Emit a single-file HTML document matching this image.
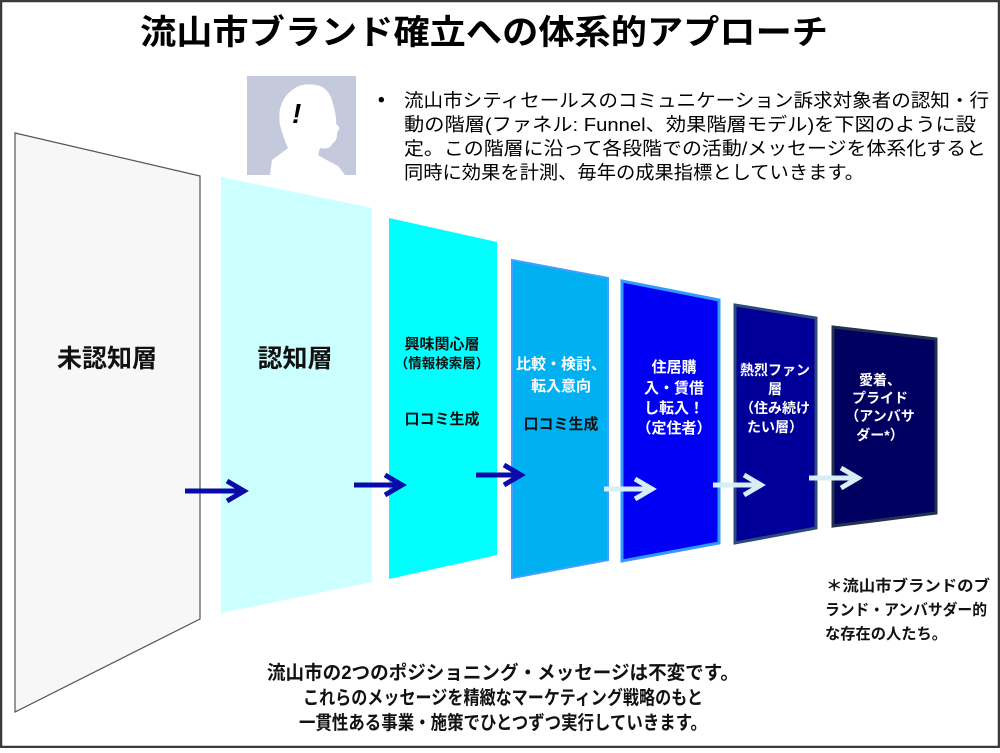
<!DOCTYPE html>
<html><head><meta charset="utf-8"><style>
html,body{margin:0;padding:0;background:#fff}
body{width:1000px;height:748px;overflow:hidden;position:relative}
svg text{font-family:"Liberation Sans","Noto Sans CJK JP",sans-serif}
</style></head><body>
<svg width="1000" height="748" viewBox="0 0 1000 748" xmlns="http://www.w3.org/2000/svg">
<rect x="1" y="1" width="998" height="746" fill="#fff" stroke="#3a3a3a" stroke-width="2.5"/>
<text x="484" y="44" font-size="34" font-weight="bold" text-anchor="middle" textLength="688" lengthAdjust="spacingAndGlyphs">流山市ブランド確立への体系的アプローチ</text>
<!-- person icon -->
<rect x="247" y="76" width="109" height="99" fill="#c4cadc"/>
<path d="M270 175 L272 160 Q283 152 288 148 Q284 140 280 125 Q276 100 295 88 Q305 82 320 86 Q330 90 333 104 Q337 118 336 124 Q342 128 337 132 Q338 140 332 144 Q330 150 320 148 L318 155 Q330 162 338 166 L345 175 Z" fill="#fff"/>
<text x="292" y="123" font-size="28" font-weight="bold" font-style="italic" fill="#000">!</text>
<!-- body text -->
<text x="378" y="106" font-size="19" font-weight="bold">•</text>
<g font-size="18.5" fill="#000">
<text x="404" y="107" textLength="585" lengthAdjust="spacingAndGlyphs">流山市シティセールスのコミュニケーション訴求対象者の認知・行</text>
<text x="404" y="131" textLength="572" lengthAdjust="spacingAndGlyphs">動の階層(ファネル: Funnel、効果階層モデル)を下図のように設</text>
<text x="404" y="155" textLength="582" lengthAdjust="spacingAndGlyphs">定。この階層に沿って各段階での活動/メッセージを体系化すると</text>
<text x="404" y="179" textLength="460" lengthAdjust="spacingAndGlyphs">同時に効果を計測、毎年の成果指標としていきます。</text>
</g>
<!-- panels -->
<polygon points="15,133 200,176 200,619 15,712" fill="#f7f7f7" stroke="#555" stroke-width="1.2"/>
<polygon points="221,177 372,208 372,582 221,613" fill="#ccffff"/>
<polygon points="389,218 497,242 497,555 389,579" fill="#00ffff"/>
<polygon points="512,260 608,278 608,560 512,578" fill="#00b0f0" stroke="#3fa0ff" stroke-width="2"/>
<polygon points="622,281 719,300 719,543 622,561" fill="#0000f5" stroke="#3399ff" stroke-width="3"/>
<polygon points="735,305 816,318 816,528 735,543" fill="#000099" stroke="#2e4a7a" stroke-width="3"/>
<polygon points="833,327 936,339 936,513 833,526" fill="#000060" stroke="#23314e" stroke-width="3"/>
<!-- labels -->
<g font-weight="bold" text-anchor="middle" fill="#111">
<text x="107" y="367" font-size="25">未認知層</text>
<text x="295" y="367" font-size="25">認知層</text>
<text x="442" y="349" font-size="15">興味関心層</text>
<text x="442" y="368" font-size="13.5">（情報検索層）</text>
<text x="442" y="424" font-size="15">口コミ生成</text>
<text x="561" y="369" font-size="15" fill="#fff">比較・検討、</text>
<text x="561" y="391" font-size="15" fill="#fff">転入意向</text>
<text x="561" y="429" font-size="15">口コミ生成</text>
</g>
<g font-weight="bold" text-anchor="middle" fill="#fff" font-size="15">
<text x="674" y="372">住居購</text>
<text x="674" y="393">入・賃借</text>
<text x="674" y="413">し転入！</text>
<text x="674" y="433">（定住者）</text>
<text x="775" y="375" font-size="14">熱烈ファン</text>
<text x="775" y="394" font-size="14">層</text>
<text x="775" y="413" font-size="14">（住み続け</text>
<text x="775" y="432" font-size="14">たい層）</text>
<text x="880" y="385" font-size="14">愛着、</text>
<text x="880" y="403" font-size="14">プライド</text>
<text x="880" y="421" font-size="14">（アンバサ</text>
<text x="880" y="440" font-size="14">ダー*）</text>
</g>
<!-- arrows -->
<g stroke-width="5" fill="none" stroke-linecap="butt" stroke-linejoin="miter">
<g stroke="#0a0aa8">
<path d="M185 491 H242 M227 481 L244 491 L227 501"/>
<path d="M354 485 H400 M385 475 L402 485 L385 495"/>
<path d="M476 496 H518 M504 486 L521 496 L504 506" transform="translate(0,-21)"/>
</g>
<g stroke="#d6eef4">
<path d="M604 489 H650 M635 479 L652 489 L635 499"/>
<path d="M713 485 H759 M744 475 L761 485 L744 495"/>
<path d="M809 478 H856 M841 468 L858 478 L841 488"/>
</g>
</g>
<!-- footnote -->
<g font-size="15.5" font-weight="bold" fill="#111">
<text x="826" y="591" textLength="164" lengthAdjust="spacingAndGlyphs">＊流山市ブランドのブ</text>
<text x="825" y="615" textLength="162" lengthAdjust="spacingAndGlyphs">ランド・アンバサダー的</text>
<text x="825" y="639" textLength="122" lengthAdjust="spacingAndGlyphs">な存在の人たち。</text>
</g>
<!-- bottom text -->
<g font-size="19" font-weight="bold" fill="#111" text-anchor="middle">
<text x="503" y="679" textLength="472" lengthAdjust="spacingAndGlyphs">流山市の2つのポジショニング・メッセージは不変です。</text>
<text x="503" y="704" textLength="400" lengthAdjust="spacingAndGlyphs">これらのメッセージを精緻なマーケティング戦略のもと</text>
<text x="503" y="729" textLength="408" lengthAdjust="spacingAndGlyphs">一貫性ある事業・施策でひとつずつ実行していきます。</text>
</g>
</svg>
</body></html>
